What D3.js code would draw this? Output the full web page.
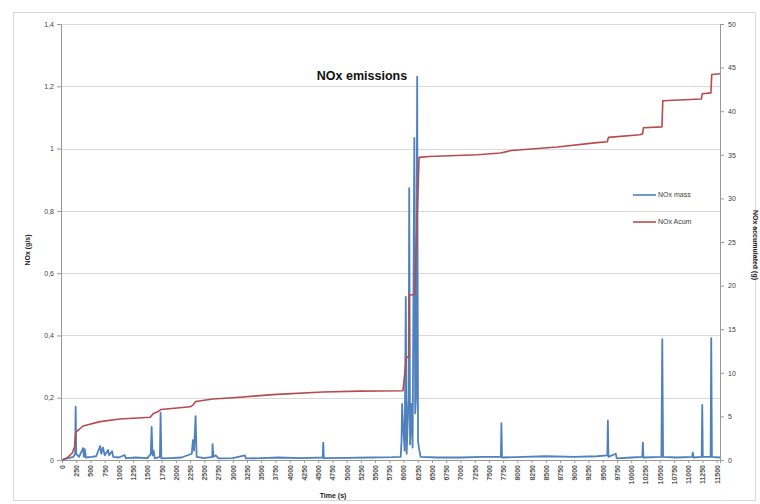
<!DOCTYPE html>
<html>
<head>
<meta charset="utf-8">
<script src="https://cdn.jsdelivr.net/npm/d3@7"></script>
<style>
  html, body { margin: 0; padding: 0; background: #fff; }
  svg { display: block; }
  text { font-family: "Liberation Sans", Arial, sans-serif; }
</style>
</head>
<body>
<svg id="chart" width="760" height="504"></svg>
<script>
// ---- Data ----
const chartTitle = "NOx emissions";
const seriesNames = ["NOx mass", "NOx Acum"];

// NOx mass (g/s), left axis
const massTime = [0, 100, 200, 230, 240, 250, 300, 370, 385, 400, 420, 520, 600, 670, 690, 720, 750, 810, 830, 880, 900,
  1000, 1100, 1120, 1300, 1500, 1560, 1575, 1590, 1610, 1630, 1720, 1732, 1745, 1900, 2100, 2280, 2300, 2320, 2347, 2365,
  2500, 2640, 2645, 2660, 2700, 2750, 3000, 3213, 3230, 3500, 3800, 4200, 4580, 4590, 4600, 5000, 5400, 5800,
  5950, 5965, 5975, 5990, 6020, 6040, 6055, 6070, 6090, 6100, 6115, 6140, 6160, 6190, 6205, 6220, 6240, 6255, 6270, 6300,
  6600, 7000, 7400, 7710, 7720, 7730, 8100, 8500, 9000, 9400, 9580, 9590, 9600, 9730, 9745, 10000, 10195, 10205, 10215,
  10530, 10546, 10560, 10800, 11070, 11083, 11095, 11238, 11248, 11258, 11395, 11406, 11418, 11560];
const massValue = [0, 0.005, 0.01, 0.02, 0.171, 0.02, 0.01, 0.038, 0.01, 0.035, 0.008, 0.01, 0.012, 0.045, 0.02, 0.04, 0.015, 0.032, 0.015, 0.028, 0.01,
  0.008, 0.016, 0.006, 0.008, 0.006, 0.02, 0.106, 0.015, 0.03, 0.005, 0.01, 0.152, 0.005, 0.006, 0.008, 0.02, 0.064, 0.03, 0.141, 0.01,
  0.006, 0.01, 0.051, 0.01, 0.015, 0.005, 0.006, 0.015, 0.005, 0.006, 0.008, 0.006, 0.008, 0.056, 0.006, 0.007, 0.008, 0.009,
  0.01, 0.06, 0.18, 0.12, 0.03, 0.524, 0.02, 0.1, 0.2, 0.873, 0.05, 0.18, 0.04, 1.034, 0.15, 0.2, 1.231, 0.06, 0.04, 0.01,
  0.008, 0.008, 0.01, 0.01, 0.118, 0.008, 0.01, 0.012, 0.01, 0.012, 0.015, 0.126, 0.01, 0.02, 0.005, 0.008, 0.01, 0.056, 0.008,
  0.01, 0.388, 0.01, 0.008, 0.01, 0.024, 0.008, 0.01, 0.177, 0.01, 0.01, 0.391, 0.01, 0.008];

// NOx accumulated (g), right axis
const acumTime = [0, 100, 180, 220, 245, 370, 670, 1020, 1550, 1600, 1700, 1740, 2250, 2300, 2350, 2650, 3125, 3700, 4580, 5230,
  5990, 6052, 6092, 6100, 6197, 6273, 6450, 7300, 7700, 7900, 8700, 9400, 9580, 9600, 10150, 10200, 10215, 10540, 10555,
  11230, 11250, 11400, 11415, 11560];
const acumValue = [0, 0.3, 0.8, 1.5, 3.2, 3.9, 4.4, 4.7, 4.9, 5.3, 5.6, 5.8, 6.1, 6.3, 6.7, 7.0, 7.2, 7.5, 7.8, 7.9,
  7.95, 11.8, 11.8, 18.9, 19.0, 34.7, 34.8, 35.0, 35.2, 35.5, 35.9, 36.4, 36.5, 37.0, 37.3, 37.4, 38.1, 38.2, 41.2,
  41.4, 42.0, 42.1, 44.2, 44.3];

const leftTicks = [0, 0.2, 0.4, 0.6, 0.8, 1, 1.2, 1.4];
const leftTickLabels = ["0", "0,2", "0,4", "0,6", "0,8", "1", "1,2", "1,4"];
const rightTicks = [0, 5, 10, 15, 20, 25, 30, 35, 40, 45, 50];
const xTicks = [0, 250, 500, 750, 1000, 1250, 1500, 1750, 2000, 2250, 2500, 2750, 3000, 3250, 3500, 3750, 4000, 4250,
  4500, 4750, 5000, 5250, 5500, 5750, 6000, 6250, 6500, 6750, 7000, 7250, 7500, 7750, 8000, 8250, 8500, 8750, 9000,
  9250, 9500, 9750, 10000, 10250, 10500, 10750, 11000, 11250, 11500];

const leftTitle = "NOx (g/s)";
const rightTitle = "NOx accumulated (g)";
const xTitle = "Time (s)";

// ---- Drawing ----
const svg = d3.select("#chart");
const blue = "#4f81bd", red = "#b94a4c";

// chart border
svg.append("rect").attr("x", 13.5).attr("y", 12.5).attr("width", 742).attr("height", 488)
  .attr("fill", "#fff").attr("stroke", "#d9d9d9");

const x = d3.scaleLinear().domain([0, 11560]).range([62, 720]);
const yL = d3.scaleLinear().domain([0, 1.4]).range([460, 24]);
const yR = d3.scaleLinear().domain([0, 50]).range([460, 24]);

// gridlines
svg.append("g").selectAll("line").data(leftTicks.slice(1)).join("line")
  .attr("x1", 61).attr("x2", 720)
  .attr("y1", d => Math.round(yL(d)) + 0.5).attr("y2", d => Math.round(yL(d)) + 0.5)
  .attr("stroke", "#d9d9d9").attr("stroke-width", 1);

// left axis
const gl = svg.append("g").attr("transform", "translate(61,0)")
  .call(d3.axisLeft(yL).tickValues(leftTicks).tickFormat((d, i) => leftTickLabels[i]).tickSize(4).tickPadding(3));
// right axis
const gr = svg.append("g").attr("transform", "translate(720,0)")
  .call(d3.axisRight(yR).tickValues(rightTicks).tickSize(4).tickPadding(4));
// bottom axis
const gb = svg.append("g").attr("transform", "translate(0,460)")
  .call(d3.axisBottom(x).tickValues(xTicks).tickFormat(d => String(d)).tickSize(3));
gb.selectAll("text").attr("transform", "rotate(-90)").attr("x", -5).attr("y", 0)
  .attr("dy", "0.35em").style("text-anchor", "end");

[gl, gr, gb].forEach(g => {
  g.select(".domain").attr("stroke", "#9a9a9a");
  g.selectAll(".tick line").attr("stroke", "#9a9a9a");
  g.selectAll("text").attr("fill", "#404040").style("font-size", "7px");
});
gb.selectAll("text").style("font-weight", "bold").attr("fill", "#555");

// series
svg.append("path").datum(massTime.map((t, i) => [t, massValue[i]]))
  .attr("d", d3.line().x(d => x(d[0])).y(d => yL(d[1])))
  .attr("fill", "none").attr("stroke", blue).attr("stroke-width", 1.8).attr("stroke-linejoin", "round");
svg.append("path").datum(acumTime.map((t, i) => [t, acumValue[i]]))
  .attr("d", d3.line().x(d => x(d[0])).y(d => yR(d[1])))
  .attr("fill", "none").attr("stroke", red).attr("stroke-width", 1.6).attr("stroke-linejoin", "round");

// title
svg.append("text").attr("x", 362).attr("y", 80).attr("text-anchor", "middle")
  .style("font-size", "12.5px").style("font-weight", "bold").attr("fill", "#111").text(chartTitle);

// axis titles
svg.append("text").attr("transform", "translate(30,250) rotate(-90)").attr("text-anchor", "middle")
  .style("font-size", "7px").style("font-weight", "bold").attr("fill", "#222").text(leftTitle);
svg.append("text").attr("transform", "translate(753,245) rotate(90)").attr("text-anchor", "middle")
  .style("font-size", "7px").style("font-weight", "bold").attr("fill", "#222").text(rightTitle);
svg.append("text").attr("x", 333).attr("y", 498).attr("text-anchor", "middle")
  .style("font-size", "7px").style("font-weight", "bold").attr("fill", "#222").text(xTitle);

// legend
const legend = svg.append("g");
[blue, red].forEach((c, i) => {
  const ly = 195 + i * 27;
  legend.append("line").attr("x1", 633).attr("x2", 656).attr("y1", ly).attr("y2", ly)
    .attr("stroke", c).attr("stroke-width", 1.6);
  legend.append("text").attr("x", 658).attr("y", ly).attr("dy", "0.35em")
    .style("font-size", "7px").attr("fill", "#404040").text(seriesNames[i]);
});
</script>
</body>
</html>
